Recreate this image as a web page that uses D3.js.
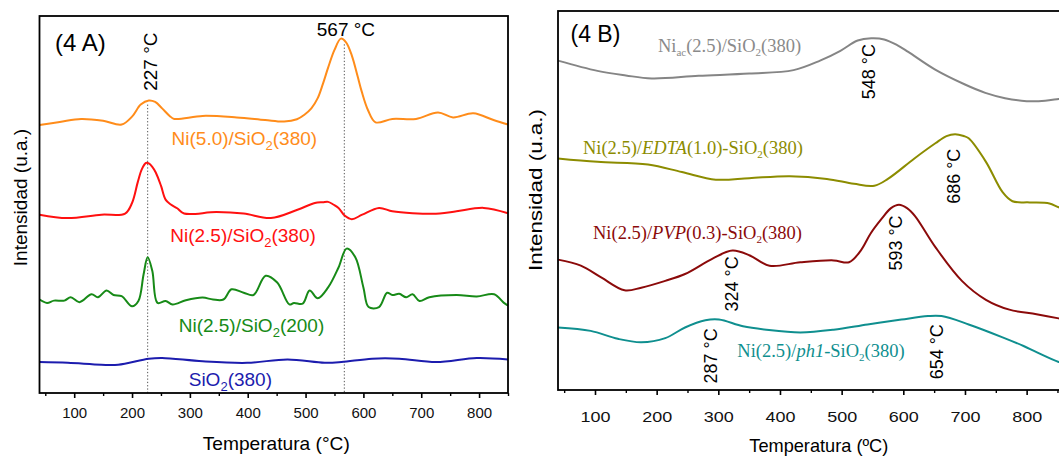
<!DOCTYPE html>
<html><head><meta charset="utf-8">
<script src="https://cdn.jsdelivr.net/npm/d3@7"></script>
<style>body{margin:0;background:#fff}svg{display:block}</style>
</head><body><svg id="c" width="1059" height="456"></svg>
<script>
// ---------- data ----------
const majorTicks=[100,200,300,400,500,600,700,800];
const minorTicks=[50,150,250,350,450,550,650,750,850];

// Panel (4 A): [temperature °C, intensity a.u.]
const a_ni50_380=[[40,71.1],[75,71.9],[112,72.7],[150,72.2],[182,71.2],[200,73.3],[215,76.5],[229,77.6],[240,77.2],[252,75.5],[265,73.5],[273,72.7],[322,73.5],[381,73.1],[430,72.4],[463,72.0],[485,72.6],[498,73.8],[510,75.5],[521,78.2],[530,82.0],[539,86.3],[550,91.0],[561,94.0],[570,93.0],[580,89.5],[590,84.0],[597,80.0],[608,75.0],[621,71.8],[650,72.7],[691,72.7],[729,74.4],[755,73.1],[790,74.2],[825,72.4],[850,71.2]];
const a_ni25_380=[[40,47.3],[88,46.4],[147,47.3],[188,47.6],[200,50.4],[210,56.0],[217,59.4],[224,61.0],[229,60.9],[235,60.0],[241,58.5],[250,55.0],[258,51.3],[267,50.0],[278,49.0],[290,47.6],[346,48.0],[393,47.6],[440,46.4],[486,48.6],[516,50.4],[530,50.6],[539,50.7],[548,50.0],[557,49.1],[568,47.0],[580,46.1],[598,47.3],[627,49.1],[650,48.2],[685,47.7],[732,47.6],[761,48.2],[808,49.1],[850,47.7]];
const a_ni25_200=[[40,24.8],[53,23.9],[65,24.5],[83,24.5],[94,25.4],[109,24.1],[130,26.2],[141,25.4],[156,27.2],[168,26.0],[182,25.7],[200,23.0],[211,24.4],[220,31.5],[227,36.0],[235,32.4],[244,23.9],[258,24.4],[270,23.5],[293,24.6],[322,25.3],[340,24.8],[358,24.8],[372,27.5],[393,26.6],[410,26.0],[431,31.1],[451,29.3],[472,23.5],[480,23.9],[495,23.7],[507,27.2],[521,25.1],[539,28.0],[557,33.3],[571,38.3],[586,36.0],[600,28.0],[609,22.8],[627,22.8],[641,26.6],[650,26.0],[662,26.3],[674,25.4],[685,26.2],[697,24.4],[714,25.4],[761,26.0],[796,25.6],[826,26.2],[843,23.9],[850,23.2]];
const a_sio2_380=[[40,8.2],[89,8.0],[147,7.5],[176,7.5],[229,9.1],[252,9.3],[322,8.4],[399,8.0],[469,8.9],[533,8.0],[562,8.2],[615,9.1],[662,9.1],[726,8.2],[796,9.3],[850,8.9]];
const a_peaks=[227,567];

// Panel (4 B)
const b_niac=[[40,86.9],[104,84.2],[150,83.0],[192,82.2],[268,82.9],[350,83.5],[422,84.4],[465,86.9],[498,89.5],[526,92.2],[548,92.8],[569,92.5],[590,91.0],[608,89.2],[651,84.6],[700,80.6],[733,78.4],[765,77.0],[800,76.2],[830,76.3],[852,76.8],[870,77.2]];
const b_edta=[[40,61.1],[104,60.2],[186,59.5],[241,57.5],[296,55.5],[350,55.9],[416,56.4],[476,55.7],[520,54.4],[553,53.9],[575,55.7],[618,61.1],[652,65.1],[670,67.0],[684,67.5],[698,67.0],[706,66.4],[734,60.2],[761,52.2],[777,49.8],[805,49.5],[837,49.2],[852,48.2],[870,47.5]];
const b_pvp=[[40,34.4],[77,32.8],[110,29.7],[148,26.3],[175,27.0],[214,28.8],[246,30.6],[290,34.6],[323,36.8],[351,35.5],[383,32.8],[433,33.7],[487,34.2],[512,33.7],[531,36.8],[547,41.3],[564,45.0],[580,48.0],[593,48.9],[606,48.0],[619,45.9],[652,37.7],[695,28.8],[734,23.8],[772,21.2],[816,20.0],[852,18.9],[870,18.3]];
const b_ph1=[[40,16.5],[93,15.6],[137,13.5],[175,12.6],[214,13.7],[246,16.5],[279,18.4],[301,18.6],[340,16.8],[378,15.9],[433,15.2],[487,15.9],[542,17.3],[597,18.6],[640,19.5],[662,19.5],[706,17.3],[761,13.9],[795,11.6],[816,10.0],[852,7.4],[870,6.6]];

// ---------- layout ----------
const SANS="'Liberation Sans',Arial,sans-serif";
const SERIF="'Liberation Serif','Times New Roman',serif";
const svg=d3.select("#c");
svg.append("rect").attr("width",1059).attr("height",456).attr("fill","#fff");
const xA=d3.scaleLinear([40,850],[39.5,508]), yA=d3.scaleLinear([0,100],[393,16]);
const xB=d3.scaleLinear([40,870],[558,1069.8]), yB=d3.scaleLinear([0,100],[390,11]);

function txt(){ return svg.append("text").style("font-family",SANS); }
function rich(t,parts,subSize,subDy){
  parts.forEach(p=>{
    const s=t.append("tspan").text(p[0]);
    if(p[1]==="sub"){s.attr("font-size",subSize).attr("dy",subDy);}
    if(p[1]==="i"){s.style("font-style","italic");}
    if(p[2]) s.attr("dy",p[2]);
  });
  return t;
}
function line(x,y,data,color){
  svg.append("path").datum(data).attr("fill","none").attr("stroke",color).attr("stroke-width",2)
   .attr("stroke-linejoin","round")
   .attr("d",d3.line().x(d=>x(d[0])).y(d=>y(d[1])).curve(d3.curveCatmullRom.alpha(0.5)));
}
function axes(x,y,labOff,fs,tl){
  const yb=y(0);
  const gM=svg.append("g").attr("transform",`translate(0,${yb})`)
    .call(d3.axisBottom(x).tickValues(majorTicks).tickSize(5).tickFormat(d3.format("d")));
  gM.select(".domain").remove();
  gM.selectAll("line").attr("stroke-width",1.6);
  const tx=gM.selectAll("text").attr("y",labOff).attr("dy",null).attr("font-size",fs)
    .style("font-family",SANS).attr("fill","#111");
  if(tl) tx.attr("textLength",tl).attr("lengthAdjust","spacingAndGlyphs");
  const gm=svg.append("g").attr("transform",`translate(0,${yb})`)
    .call(d3.axisBottom(x).tickValues(minorTicks).tickSize(3).tickFormat(""));
  gm.select(".domain").remove();
  gm.selectAll("line").attr("stroke-width",1.4);
}

// ---------- Panel A ----------
a_peaks.forEach((p,i)=>{
  svg.append("line").attr("x1",xA(p)).attr("x2",xA(p)).attr("y1",yA(i===0?76.5:92.5)).attr("y2",yA(0))
   .attr("stroke","#555").attr("stroke-width",1).attr("stroke-dasharray","1.3,2");
});
line(xA,yA,a_sio2_380,"#1c1cae");
line(xA,yA,a_ni25_200,"#178a17");
line(xA,yA,a_ni25_380,"#ff1010");
line(xA,yA,a_ni50_380,"#ff8c1a");
svg.append("rect").attr("x",xA(40)).attr("y",yA(100)).attr("width",xA(850)-xA(40)).attr("height",yA(0)-yA(100))
  .attr("fill","none").attr("stroke","#000").attr("stroke-width",1.8);
axes(xA,yA,25,15,null);

txt().attr("x",xA(66.8)).attr("y",yA(90.8)).attr("font-size",24).text("(4 A)");
txt().attr("x",xA(569.8)).attr("y",yA(94.8)).attr("font-size",19).attr("text-anchor","middle").text("567 °C");
txt().attr("transform",`translate(${xA(242.6)},${yA(87.9)}) rotate(-90)`).attr("font-size",19).attr("text-anchor","middle").text("227 °C");
const labA=[
 [[["Ni(5.0)/SiO"],["2","sub"],["(380)",null,-5]],394.2,65.7,"#ff8c1a"],
 [[["Ni(2.5)/SiO"],["2","sub"],["(380)",null,-5]],391.9,40.05,"#ff1010"],
 [[["Ni(2.5)/SiO"],["2","sub"],["(200)",null,-5]],406.5,16.3,"#178a17"],
 [[["SiO"],["2","sub"],["(380)",null,-5]],370,1.96,"#1c1cae"]];
labA.forEach(l=>{
  rich(txt().attr("x",xA(l[1])).attr("y",yA(l[2])).attr("font-size",19).attr("text-anchor","middle").attr("fill",l[3]),l[0],13,5);
});
txt().attr("transform",`translate(26.5,197.5) rotate(-90)`).attr("font-size",19).attr("text-anchor","middle").text("Intensidad (u.a.)");
txt().attr("x",276.3).attr("y",450).attr("font-size",19).attr("text-anchor","middle")
  .attr("textLength",147).attr("lengthAdjust","spacingAndGlyphs").text("Temperatura (°C)");

// ---------- Panel B ----------
line(xB,yB,b_ph1,"#0f8f8f");
line(xB,yB,b_pvp,"#8b0a0a");
line(xB,yB,b_edta,"#8c8c00");
line(xB,yB,b_niac,"#858585");
svg.append("rect").attr("x",xB(40)).attr("y",yB(100)).attr("width",xB(870)-xB(40)).attr("height",yB(0)-yB(100))
  .attr("fill","none").attr("stroke","#000").attr("stroke-width",1.8);
axes(xB,yB,31.7,15,30);

txt().attr("x",xB(60.3)).attr("y",yB(91.8)).attr("font-size",23).text("(4 B)");
const labB=[
 [[["Ni"],["ac","sub"],["(2.5)/SiO",null,-4],["2","sub"],["(380)",null,-4]],318.2,89.1,"#8a8a8a"],
 [[["Ni(2.5)/"],["EDTA","i"],["(1.0)-SiO"],["2","sub"],["(380)",null,-4]],258.8,62.4,"#8c8c00"],
 [[["Ni(2.5)/"],["PVP","i"],["(0.3)-SiO"],["2","sub"],["(380)",null,-4]],266.2,39.9,"#8b0a0a"],
 [[["Ni(2.5)/"],["ph1","i"],["-SiO"],["2","sub"],["(380)",null,-4]],466.5,8.8,"#0f8f8f"]];
labB.forEach(l=>{
  rich(svg.append("text").style("font-family",SERIF).attr("x",xB(l[1])).attr("y",yB(l[2])).attr("font-size",18.5)
    .attr("text-anchor","middle").attr("fill",l[3]),l[0],11,4);
});
const peakB=[["548 °C",554.6,84.0],["686 °C",691.7,56.4],["593 °C",598.6,38.8],["324 °C",332.4,28.0],["287 °C",297.8,9.0],["654 °C",664.3,10.1]];
peakB.forEach(p=>{
  txt().attr("transform",`translate(${xB(p[1])},${yB(p[2])}) rotate(-90)`).attr("font-size",18)
    .attr("text-anchor","middle").attr("textLength",55).attr("lengthAdjust","spacingAndGlyphs").text(p[0]);
});
txt().attr("transform",`translate(541.5,190) rotate(-90)`).attr("font-size",19).attr("text-anchor","middle")
  .attr("textLength",162).attr("lengthAdjust","spacingAndGlyphs").text("Intensidad (u.a.)");
txt().attr("x",818.8).attr("y",452).attr("font-size",19).attr("text-anchor","middle")
  .attr("textLength",139).attr("lengthAdjust","spacingAndGlyphs").text("Temperatura (ºC)");
</script></body></html>
